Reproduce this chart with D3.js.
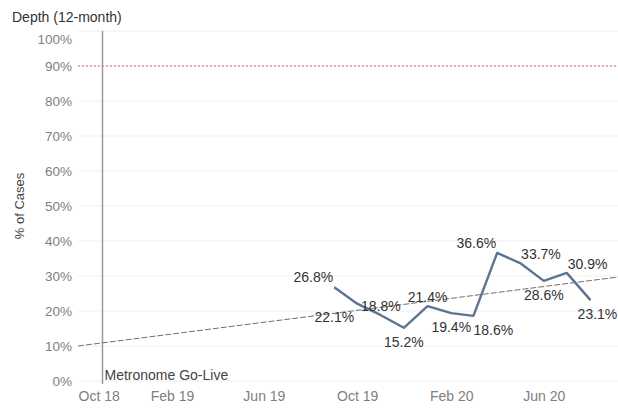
<!DOCTYPE html>
<html>
<head>
<meta charset="utf-8">
<script src="https://cdn.jsdelivr.net/npm/d3@7"></script>
<style>
  html, body { margin: 0; padding: 0; background: #fff; }
  svg { display: block; font-family: "Liberation Sans", Arial, sans-serif; }
</style>
</head>
<body>
<svg id="chart" width="618" height="408"></svg>
<script>
// Monthly 12-month depth values (% of cases)
const months = ["2019-09-01", "2019-10-01", "2019-11-01", "2019-12-01", "2020-01-01", "2020-02-01",
                "2020-03-01", "2020-04-01", "2020-05-01", "2020-06-01", "2020-07-01", "2020-08-01"];
const depth = [26.8, 22.1, 18.8, 15.2, 21.4, 19.4, 18.6, 36.6, 33.7, 28.6, 30.9, 23.1];

// Axis ticks
const yTicks = [0, 10, 20, 30, 40, 50, 60, 70, 80, 90, 100];
const xTickDates = ["2018-10-01", "2019-02-01", "2019-06-01", "2019-10-01", "2020-02-01", "2020-06-01"];
const xTickLabels = ["Oct 18", "Feb 19", "Jun 19", "Oct 19", "Feb 20", "Jun 20"];

// Reference lines
const targetPct = 90;
const goLiveDate = "2018-11-02";
const goLiveLabel = "Metronome Go-Live";
const trendDates = ["2018-10-01", "2020-09-06"];
const trendValues = [10.0, 29.7];

// Where each value label sits relative to its point
const labelPlacement = ["aboveLeft", "belowLeft", "above", "below", "above", "below",
                        "belowRight", "aboveLeft", "aboveRight", "below", "aboveRight", "belowEdge"];

const parse = d3.utcParse("%Y-%m-%d");
const svg = d3.select("#chart");
const FONT = "Liberation Sans, Arial, sans-serif";

const x = d3.scaleUtc()
  .domain([parse(xTickDates[0]), parse(trendDates[1])])
  .range([78, 618]);
const y = d3.scaleLinear().domain([0, 100]).range([381, 31]);

// Horizontal gridlines
svg.append("g")
  .selectAll("line")
  .data(yTicks)
  .join("line")
  .attr("x1", x.range()[0]).attr("x2", x.range()[1])
  .attr("y1", d => y(d)).attr("y2", d => y(d))
  .attr("stroke", "#efefef").attr("stroke-width", 1);

// Y axis labels (top label kept inside the plot area)
const yAxis = d3.axisLeft(y).tickValues(yTicks).tickFormat(d => d + "%").tickSize(0).tickPadding(6);
const gy = svg.append("g").attr("transform", `translate(${x.range()[0]},0)`).call(yAxis);
gy.select(".domain").remove();
gy.selectAll("text")
  .attr("fill", "#808080").attr("font-size", 13.5).attr("font-family", FONT)
  .attr("dy", d => d === 100 ? "0.95em" : "0.32em");

// X axis labels (first label kept inside the plot area)
const xAxis = d3.axisBottom(x)
  .tickValues(xTickDates.map(parse))
  .tickFormat((d, i) => xTickLabels[i])
  .tickSize(0).tickPadding(10);
const gx = svg.append("g").attr("transform", `translate(0,${y(0)})`).call(xAxis);
gx.select(".domain").remove();
gx.selectAll("text")
  .attr("fill", "#808080").attr("font-size", 14).attr("font-family", FONT)
  .attr("text-anchor", (d, i) => i === 0 ? "start" : "middle");

// Target line
svg.append("line")
  .attr("x1", x.range()[0]).attr("x2", x.range()[1])
  .attr("y1", y(targetPct)).attr("y2", y(targetPct))
  .attr("stroke", "#e06666").attr("stroke-width", 1.2)
  .attr("stroke-dasharray", "2,2");

// Go-live marker
const gl = x(parse(goLiveDate));
svg.append("line")
  .attr("x1", gl).attr("x2", gl)
  .attr("y1", y(100)).attr("y2", y(0) + 3)
  .attr("stroke", "#9a9a9a").attr("stroke-width", 1.5);
svg.append("text")
  .attr("x", gl + 2).attr("y", y(0) - 1)
  .attr("fill", "#444").attr("font-size", 14)
  .text(goLiveLabel);

// Trend line
svg.append("path")
  .datum(trendDates.map((d, i) => [parse(d), trendValues[i]]))
  .attr("fill", "none")
  .attr("stroke", "#6f6f6f").attr("stroke-width", 1)
  .attr("stroke-dasharray", "6,2")
  .attr("d", d3.line().x(d => x(d[0])).y(d => y(d[1])));

// Depth series
const pts = months.map((m, i) => ({ date: parse(m), value: depth[i], place: labelPlacement[i] }));
svg.append("path")
  .datum(pts)
  .attr("fill", "none")
  .attr("stroke", "#5b7590").attr("stroke-width", 2.4)
  .attr("stroke-linejoin", "round")
  .attr("d", d3.line().x(d => x(d.date)).y(d => y(d.value)));

// Value labels
const offsets = {
  above:      { dx: 0,  dy: -4,  anchor: "middle" },
  below:      { dx: 0,  dy: 19,  anchor: "middle" },
  belowEdge:  { dx: 7,  dy: 19,  anchor: "middle" },
  aboveLeft:  { dx: -1, dy: -5,  anchor: "end" },
  belowLeft:  { dx: -3, dy: 18,  anchor: "end" },
  aboveRight: { dx: 1,  dy: -4,  anchor: "start" },
  belowRight: { dx: 0,  dy: 19,  anchor: "start" }
};
svg.append("g")
  .selectAll("text")
  .data(pts)
  .join("text")
  .attr("x", d => x(d.date) + offsets[d.place].dx)
  .attr("y", d => y(d.value) + offsets[d.place].dy)
  .attr("text-anchor", d => offsets[d.place].anchor)
  .attr("fill", "#333").attr("font-size", 14)
  .text(d => d.value.toFixed(1) + "%");

// Titles
svg.append("text")
  .attr("x", 12).attr("y", 22)
  .attr("fill", "#333").attr("font-size", 14)
  .text("Depth (12-month)");
svg.append("text")
  .attr("transform", `translate(24,${(y(0) + y(100)) / 2}) rotate(-90)`)
  .attr("text-anchor", "middle")
  .attr("fill", "#444").attr("font-size", 13)
  .text("% of Cases");
</script>
</body>
</html>
